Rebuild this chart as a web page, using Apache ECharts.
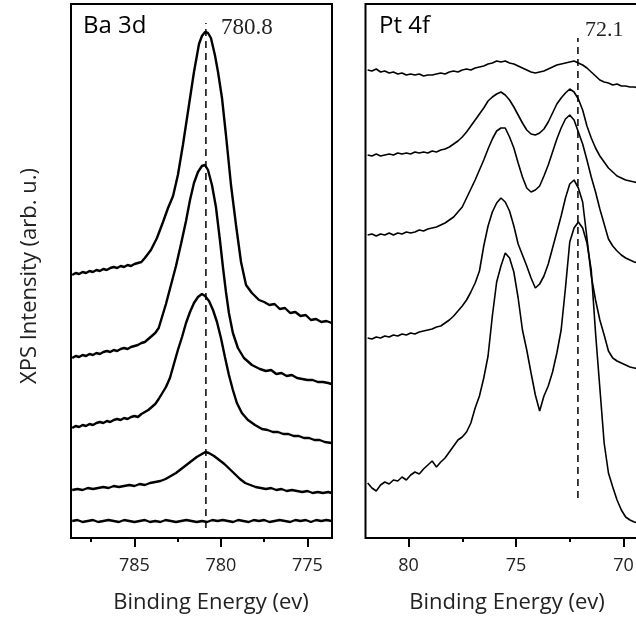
<!DOCTYPE html>
<html>
<head>
<meta charset="utf-8">
<script src="https://cdn.jsdelivr.net/npm/echarts@6/dist/echarts.min.js"></script>
<style>
html,body{margin:0;padding:0;background:#fff;}
#chart{width:636px;height:620px;}
</style>
</head>
<body>
<div id="chart"></div>
<script>
// ---------- Data (binding energy eV, intensity a.u. incl. offsets) ----------
const baTicks = [775, 780, 785];
const baMinorTicks = [777.5, 782.5, 787.5];
const ptTicks = [70, 75, 80];
const ptMinorTicks = [72.5, 77.5];
const baPeakLabel = '780.8';
const ptPeakLabel = '72.1';
const baPeakE = 780.87;
const ptPeakE = 72.12;

const ba1 = [[788.6,263],[788.4,265],[788.2,264],[788.0,266],[787.8,265],[787.6,267],[787.4,266],[787.2,268],[787.0,267],[786.8,269],[786.6,268],[786.4,270],[786.2,271],[786.0,270],[785.8,272],[785.6,271],[785.4,273],[785.2,272],[785.0,274],[784.8,275],[784.6,276],[784.4,280],[784.05,288],[783.7,300],[783.35,316],[783.06,330],[782.77,342],[782.49,363],[782.2,393],[781.91,426],[781.56,466],[781.27,494],[781.1,502],[780.92,506],[780.75,505],[780.58,500],[780.35,483],[780.17,466],[779.94,440],[779.71,403],[779.42,353],[779.13,313],[778.84,276],[778.55,253],[778.21,245],[777.8,238],[777.5,236],[777.2,233],[776.9,234],[776.6,229],[776.3,230],[776.0,225],[775.7,226],[775.4,222],[775.1,223],[774.8,218],[774.5,219],[774.2,216],[773.9,217],[773.6,215]];

const ba2 = [[788.6,180],[788.4,182],[788.2,181],[788.0,183],[787.8,182],[787.6,184],[787.4,183],[787.2,185],[787.0,184],[786.8,186],[786.6,187],[786.4,186],[786.2,188],[786.0,187],[785.8,189],[785.6,190],[785.4,189],[785.2,191],[785.0,192],[784.8,193],[784.6,195],[784.4,196],[784.2,199],[784.0,202],[783.8,205],[783.6,210],[783.18,234],[782.89,253],[782.6,272],[782.31,294],[782.02,317],[781.79,338],[781.56,355],[781.33,366],[781.1,372],[780.92,373],[780.75,368],[780.52,353],[780.29,331],[780.06,298],[779.88,270],[779.71,246],[779.54,225],[779.31,205],[779.02,190],[778.67,180],[778.21,173],[777.75,169],[777.4,167],[777.1,168],[776.8,164],[776.5,165],[776.2,162],[775.9,163],[775.6,160],[775.3,159],[775.0,158],[774.7,158],[774.4,156],[774.1,156],[773.8,155],[773.6,154]];

const ba3 = [[788.6,110],[788.4,112],[788.2,111],[788.0,113],[787.8,112],[787.6,114],[787.4,113],[787.2,115],[787.0,116],[786.8,115],[786.6,117],[786.4,116],[786.2,118],[786.0,119],[785.8,118],[785.6,120],[785.4,119],[785.2,121],[785.0,122],[784.8,121],[784.6,124],[784.4,126],[784.2,128],[784.0,131],[783.8,134],[783.6,139],[783.18,151],[782.95,160],[782.72,174],[782.49,188],[782.25,201],[782.02,215],[781.79,226],[781.56,235],[781.33,241],[781.1,244],[780.92,242],[780.69,237],[780.46,228],[780.23,216],[780.0,200],[779.77,181],[779.54,163],[779.31,148],[779.08,135],[778.79,125],[778.44,118],[778.03,113],[777.63,109],[777.3,108],[777.0,106],[776.7,106],[776.4,104],[776.1,104],[775.8,102],[775.5,102],[775.2,100],[774.9,100],[774.6,98],[774.3,98],[774.0,96],[773.6,95]];

const ba4 = [[788.6,48],[788.3,49],[788.0,48],[787.7,50],[787.4,49],[787.1,50],[786.8,51],[786.5,50],[786.2,52],[785.9,51],[785.6,52],[785.3,53],[785.0,52],[784.7,54],[784.4,53],[784.1,55],[783.8,56],[783.5,57],[783.2,59],[782.9,62],[782.6,65],[782.3,69],[782.0,73],[781.7,77],[781.4,81],[781.1,84],[780.9,86],[780.7,85],[780.4,82],[780.1,78],[779.8,74],[779.5,69],[779.2,64],[778.9,59],[778.6,55],[778.3,53],[778.0,51],[777.7,50],[777.4,49],[777.1,50],[776.8,48],[776.5,49],[776.2,47],[775.9,48],[775.6,47],[775.3,46],[775.0,47],[774.7,45],[774.4,46],[774.1,45],[773.8,46],[773.6,45]];

const ba5 = [[788.6,17],[788.3,18],[788.0,16],[787.7,17],[787.4,18],[787.1,16],[786.8,17],[786.5,18],[786.2,17],[785.9,16],[785.6,18],[785.3,17],[785.0,16],[784.7,17],[784.4,18],[784.1,16],[783.8,17],[783.5,16],[783.2,18],[782.9,17],[782.6,16],[782.3,17],[782.0,18],[781.7,17],[781.4,16],[781.1,17],[780.8,16],[780.5,18],[780.2,17],[779.9,18],[779.6,17],[779.3,16],[779.0,18],[778.7,17],[778.4,16],[778.1,18],[777.8,17],[777.5,18],[777.2,16],[776.9,17],[776.6,18],[776.3,17],[776.0,16],[775.7,18],[775.4,17],[775.1,18],[774.8,16],[774.5,18],[774.2,17],[773.9,18],[773.6,17]];

const pt1 = [[81.9,468],[81.7,467],[81.5,469],[81.3,466],[81.1,467],[80.9,465],[80.7,466],[80.5,464],[80.3,465],[80.1,463],[79.9,464],[79.7,463],[79.5,464],[79.3,462],[79.1,463],[78.9,463],[78.7,464],[78.5,465],[78.3,464],[78.1,466],[77.9,467],[77.7,466],[77.5,468],[77.3,469],[77.1,468],[76.9,470],[76.7,471],[76.5,472],[76.3,474],[76.1,475],[75.9,477],[75.7,476],[75.5,477],[75.3,475],[75.1,474],[74.9,472],[74.7,470],[74.5,468],[74.3,466],[74.1,465],[73.9,466],[73.7,467],[73.5,469],[73.3,471],[73.1,473],[72.9,474],[72.7,475],[72.5,476],[72.3,477],[72.1,475],[71.9,473],[71.7,470],[71.5,466],[71.3,462],[71.1,458],[70.9,456],[70.7,455],[70.5,453],[70.3,454],[70.1,452],[69.9,452],[69.7,451],[69.5,451],[69.3,450]];

const pt2 = [[81.9,383],[81.7,382],[81.5,384],[81.3,382],[81.1,383],[80.9,384],[80.7,383],[80.5,385],[80.3,384],[80.1,385],[79.9,384],[79.7,386],[79.5,385],[79.3,386],[79.1,385],[78.9,387],[78.7,386],[78.5,388],[78.3,389],[78.1,391],[77.9,394],[77.7,397],[77.5,401],[77.3,406],[77.1,412],[76.9,418],[76.7,424],[76.5,430],[76.3,437],[76.1,441],[75.9,444],[75.7,446],[75.5,443],[75.3,438],[75.1,431],[74.9,423],[74.7,415],[74.5,408],[74.3,404],[74.1,403],[73.9,405],[73.7,409],[73.5,416],[73.3,425],[73.1,434],[72.9,440],[72.7,445],[72.5,449],[72.3,446],[72.1,439],[71.9,428],[71.7,412],[71.5,400],[71.3,390],[71.1,382],[70.9,376],[70.7,370],[70.5,366],[70.3,362],[70.1,360],[69.9,358],[69.7,357],[69.5,356],[69.3,355]];

const pt3 = [[81.9,303],[81.7,304],[81.5,302],[81.3,304],[81.1,303],[80.9,305],[80.7,303],[80.5,305],[80.3,304],[80.1,306],[79.9,305],[79.7,306],[79.5,308],[79.3,307],[79.1,309],[78.9,310],[78.7,311],[78.5,313],[78.3,315],[78.1,318],[77.9,321],[77.7,326],[77.5,331],[77.3,340],[77.1,349],[76.9,358],[76.7,368],[76.5,378],[76.3,389],[76.1,399],[75.9,407],[75.7,410],[75.5,410],[75.3,401],[75.1,390],[74.9,375],[74.7,361],[74.5,350],[74.3,346],[74.1,348],[73.9,352],[73.7,362],[73.5,373],[73.3,386],[73.1,399],[72.9,410],[72.7,419],[72.5,423],[72.3,418],[72.1,406],[71.9,394],[71.7,378],[71.5,361],[71.3,346],[71.1,329],[70.9,314],[70.7,299],[70.5,292],[70.3,287],[70.1,283],[69.9,280],[69.7,278],[69.5,276],[69.3,275]];

const pt4 = [[81.9,200],[81.7,199],[81.5,201],[81.3,200],[81.1,202],[80.9,201],[80.7,203],[80.5,202],[80.3,204],[80.1,203],[79.9,205],[79.7,204],[79.5,206],[79.3,207],[79.1,208],[78.9,209],[78.7,211],[78.5,212],[78.3,215],[78.1,218],[77.9,222],[77.7,227],[77.5,232],[77.3,238],[77.1,246],[76.9,255],[76.7,267],[76.5,292],[76.3,312],[76.1,326],[75.9,335],[75.7,340],[75.5,336],[75.3,327],[75.1,312],[74.9,294],[74.7,283],[74.5,272],[74.3,260],[74.1,250],[73.9,254],[73.7,262],[73.5,274],[73.3,290],[73.1,306],[72.9,322],[72.7,340],[72.5,354],[72.3,358],[72.1,350],[71.9,336],[71.7,300],[71.5,262],[71.3,238],[71.1,218],[70.9,203],[70.7,187],[70.5,180],[70.3,177],[70.1,175],[69.9,173],[69.7,171],[69.5,170],[69.3,169]];

const pt5 = [[81.9,55],[81.7,50],[81.5,47],[81.3,53],[81.1,56],[80.9,54],[80.7,58],[80.5,57],[80.3,61],[80.1,58],[79.9,63],[79.7,66],[79.5,64],[79.3,69],[79.1,73],[78.9,77],[78.7,71],[78.5,76],[78.3,80],[78.1,86],[77.9,92],[77.7,98],[77.5,101],[77.3,106],[77.1,115],[76.9,130],[76.7,142],[76.5,160],[76.3,182],[76.1,222],[75.9,256],[75.7,272],[75.5,285],[75.3,280],[75.1,266],[74.9,240],[74.7,208],[74.5,188],[74.3,165],[74.1,143],[73.9,127],[73.7,142],[73.5,152],[73.3,166],[73.1,185],[72.9,208],[72.7,250],[72.5,296],[72.3,310],[72.1,316],[71.9,310],[71.7,295],[71.5,268],[71.3,205],[71.1,150],[70.9,95],[70.7,65],[70.5,51],[70.3,38],[70.1,28],[69.9,21],[69.7,18],[69.5,16],[69.3,15]];

const baSeries = [ba1, ba2, ba3, ba4, ba5];
const ptSeries = [pt1, pt2, pt3, pt4, pt5];

// ---------- Chart ----------
const FONT = '"Open Sans", "Noto Sans", sans-serif';
const chart = echarts.init(document.getElementById('chart'), null, {renderer: 'canvas'});

function mkX(grid, min, max, vals, len, showLabel) {
  return {
    type: 'value', gridIndex: grid, inverse: true, min: min, max: max,
    position: 'bottom', offset: 0,
    axisLine: {show: false},
    splitLine: {show: false},
    axisTick: {show: true, inside: false, length: len, customValues: vals,
               lineStyle: {color: '#000', width: 2}},
    axisLabel: {show: showLabel, customValues: vals, margin: 19,
                fontFamily: FONT, fontSize: 18, color: '#222'}
  };
}

const series = [];
baSeries.forEach(d => series.push({type: 'line', xAxisIndex: 0, yAxisIndex: 0, data: d,
  showSymbol: false, lineStyle: {color: '#000', width: 2.4}, animation: false, z: 3}));
ptSeries.forEach(d => series.push({type: 'line', xAxisIndex: 2, yAxisIndex: 1, data: d,
  showSymbol: false, lineStyle: {color: '#000', width: 1.6}, animation: false, z: 3}));
series.push({type: 'line', xAxisIndex: 0, yAxisIndex: 0, data: [[baPeakE, 10], [baPeakE, 515]],
  showSymbol: false, lineStyle: {color: '#000', width: 1.5, type: [7, 5]}, animation: false, z: 2});
series.push({type: 'line', xAxisIndex: 2, yAxisIndex: 1, data: [[ptPeakE, 40], [ptPeakE, 500]],
  showSymbol: false, lineStyle: {color: '#000', width: 1.5, type: [7, 5]}, animation: false, z: 2});

chart.setOption({
  backgroundColor: '#fff',
  animation: false,
  grid: [
    {left: 71, top: 4, width: 261, height: 534, show: true, borderColor: '#000', borderWidth: 2,
     backgroundColor: 'transparent', outerBoundsMode: 'none', containLabel: false},
    {left: 365.5, top: 4, width: 301, height: 534, show: true, borderColor: '#000', borderWidth: 2,
     backgroundColor: 'transparent', outerBoundsMode: 'none', containLabel: false}
  ],
  xAxis: [
    mkX(0, 773.58, 788.67, baTicks, 9, true),
    mkX(0, 773.58, 788.67, baMinorTicks, 4, false),
    mkX(1, 68, 82, ptTicks, 9, true),
    mkX(1, 68, 82, ptMinorTicks, 4, false)
  ],
  yAxis: [
    {type: 'value', gridIndex: 0, min: 0, max: 534, show: false},
    {type: 'value', gridIndex: 1, min: 0, max: 534, show: false}
  ],
  series: series,
  graphic: [
    {type: 'text', x: 83, y: 26, style: {text: 'Ba 3d', fontFamily: FONT, fontSize: 24, fill: '#000', verticalAlign: 'middle'}},
    {type: 'text', x: 221, y: 28, style: {text: baPeakLabel, fontFamily: '"Liberation Serif", serif', fontSize: 23, fill: '#222', verticalAlign: 'middle'}},
    {type: 'text', x: 379, y: 26, style: {text: 'Pt 4f', fontFamily: FONT, fontSize: 24, fill: '#000', verticalAlign: 'middle'}},
    {type: 'text', x: 585, y: 30, style: {text: ptPeakLabel, fontFamily: '"Liberation Serif", serif', fontSize: 22, fill: '#222', verticalAlign: 'middle'}},
    {type: 'text', x: 211, y: 603, style: {text: 'Binding Energy (ev)', fontFamily: FONT, fontSize: 22, fill: '#222', align: 'center', verticalAlign: 'middle'}},
    {type: 'text', x: 507, y: 603, style: {text: 'Binding Energy (ev)', fontFamily: FONT, fontSize: 22, fill: '#222', align: 'center', verticalAlign: 'middle'}},
    {type: 'text', x: 30, y: 276, rotation: Math.PI / 2, style: {text: 'XPS Intensity (arb. u.)', fontFamily: FONT, fontSize: 22, fill: '#222', align: 'center', verticalAlign: 'middle'}}
  ]
});
</script>
</body>
</html>
